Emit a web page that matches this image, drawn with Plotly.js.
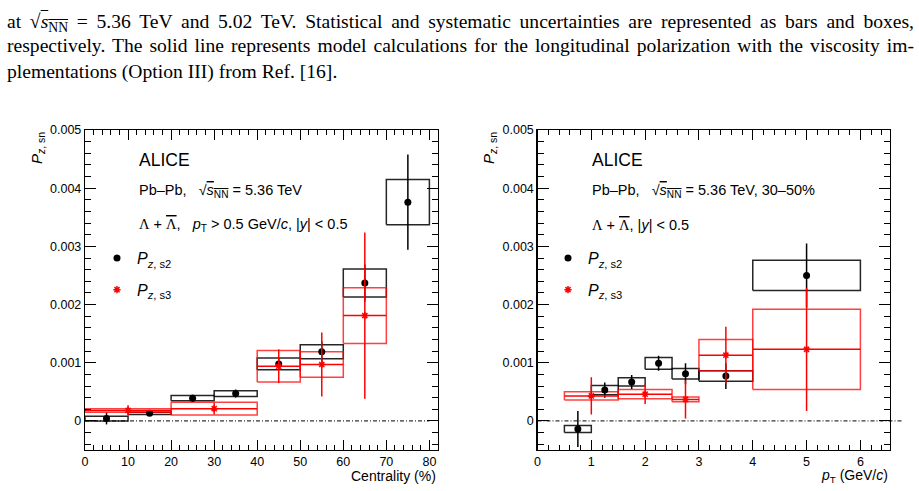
<!DOCTYPE html>
<html>
<head>
<meta charset="utf-8">
<script src="https://cdn.plot.ly/plotly-3.0.1.min.js"></script>
<style>
  html, body { margin: 0; padding: 0; background: #fff; }
  #wrap { position: relative; width: 919px; height: 491px; overflow: hidden; }
  #chart { position: absolute; left: 0; top: 0; width: 919px; height: 491px; }
  .cap { position: absolute; left: 7px; width: 907px; height: 26px; line-height: 26px; overflow: hidden;
    font-family: "Liberation Serif", "Times New Roman", serif; font-size: 19.6px; color: #000; }
  .cap.just { text-align: justify; text-align-last: justify; }
  .cap .rad { line-height: 0; }
  .cap .nn { font-size: 70%; position: relative; top: 0.3em; }
  .cap .ov { text-decoration: overline; }
</style>
</head>
<body>
<div id="wrap">
  <div id="chart"></div>
  <div class="cap just" style="top:9px">at <span class="rad">√</span><span class="ov"><i>s</i><span class="nn">NN</span></span> = 5.36 TeV and 5.02 TeV. Statistical and systematic uncertainties are represented as bars and boxes,</div>
  <div class="cap just" style="top:33px">respectively. The solid line represents model calculations for the longitudinal polarization with the viscosity im-</div>
  <div class="cap" style="top:59px">plementations (Option III) from Ref. [16].</div>
</div>
<script>
// ---- Centrality dependence (left panel) ----
const centS2          = [5, 15, 25, 35, 45, 55, 65, 75];
const centS2HalfWidth = [5, 5, 5, 5, 5, 5, 5, 5];
const pzS2Cent        = [0.00004, 0.00013, 0.00039, 0.00047, 0.00098, 0.00119, 0.00237, 0.00376];
const pzS2CentStat    = [0.00010, 0.00004, 0.00006, 0.00007, 0.00010, 0.00018, 0.00032, 0.00082];
const pzS2CentSyst    = [0.00004, 0.00002, 0.000045, 0.00005, 0.00010, 0.00012, 0.00024, 0.00039];

const centS3          = [10, 30, 45, 55, 65];
const centS3HalfWidth = [10, 10, 5, 5, 5];
const pzS3Cent        = [0.00018, 0.00021, 0.00094, 0.00097, 0.00181];
const pzS3CentStat    = [0.00009, 0.00010, 0.00029, 0.00055, 0.00143];
const pzS3CentSyst    = [0.00003, 0.00011, 0.00027, 0.00022, 0.00048];

// ---- pT dependence, 30-50% (right panel) ----
const ptS2            = [0.75, 1.25, 1.75, 2.25, 2.75, 3.5, 5];
const ptS2HalfWidth   = [0.25, 0.25, 0.25, 0.25, 0.25, 0.5, 1];
const pzS2Pt          = [-0.00014, 0.00053, 0.00067, 0.00099, 0.00081, 0.00077, 0.00250];
const pzS2PtStat      = [0.00031, 0.00013, 0.00012, 0.00013, 0.00018, 0.00022, 0.00055];
const pzS2PtSyst      = [0.00006, 0.00008, 0.00007, 0.00010, 0.00009, 0.00009, 0.00026];

const ptS3            = [1.0, 2.0, 2.75, 3.5, 5];
const ptS3HalfWidth   = [0.5, 0.5, 0.25, 0.5, 1];
const pzS3Pt          = [0.00043, 0.00046, 0.00037, 0.00113, 0.00123];
const pzS3PtStat      = [0.00032, 0.00017, 0.00033, 0.00049, 0.00106];
const pzS3PtSyst      = [0.00007, 0.00008, 0.00004, 0.00027, 0.00069];

// zero reference lines (x extent)
const zeroLineCent = [0, 80];
const zeroLinePt   = [0, 6.8];

// axis ticks
const yTickVals  = [0, 0.001, 0.002, 0.003, 0.004, 0.005];
const yTickText  = ['0', '0.001', '0.002', '0.003', '0.004', '0.005'];

const W = 919, H = 491;
const SANS = 'Liberation Sans, Arial, sans-serif';
const BLACK = '#000000';
const RED = '#ff0000';
const RED_BOX = 'rgba(255,0,0,0.75)';
const BLACK_BOX = 'rgba(0,0,0,0.85)';

// layout geometry in pixels
const xDomL = [85 / W, 438 / W];
const xDomR = [537.5 / W, 890 / W];
const yDom  = [(H - 450) / H, (H - 130) / H];
const xRangeL = [0, 82];
const xRangeR = [0, 6.55];
const yRange  = [-0.0005, 0.005];

// rectangle outlines for systematic uncertainties
function boxes(x, hw, v, s, color, xa, ya) {
  const xs = [], ys = [];
  for (let i = 0; i < x.length; i++) {
    const x0 = x[i] - hw[i], x1 = x[i] + hw[i];
    const y0 = v[i] - s[i], y1 = v[i] + s[i];
    xs.push(x0, x1, x1, x0, x0, null);
    ys.push(y0, y0, y1, y1, y0, null);
  }
  return { x: xs, y: ys, xaxis: xa, yaxis: ya, type: 'scatter', mode: 'lines',
    line: { color: color, width: 1.5 }, showlegend: false, hoverinfo: 'skip' };
}

function blackPoints(x, v, stat, xa, ya, name, legend, group) {
  return { x: x, y: v, xaxis: xa, yaxis: ya, type: 'scatter', mode: 'markers', name: name,
    legend: legend, legendgroup: group,
    marker: { symbol: 'circle', size: 7, color: BLACK },
    error_y: { type: 'data', array: stat, symmetric: true, width: 0, thickness: 1.5, color: BLACK } };
}

function redPoints(x, hw, v, stat, xa, ya, name, legend, group) {
  return { x: x, y: v, xaxis: xa, yaxis: ya, type: 'scatter', mode: 'markers', name: name,
    legend: legend, legendgroup: group,
    marker: { symbol: 'asterisk-open', size: 6, color: RED, line: { color: RED, width: 1.5 } },
    error_y: { type: 'data', array: stat, symmetric: true, width: 0, thickness: 1.5, color: RED },
    error_x: { type: 'data', array: hw, symmetric: true, width: 0, thickness: 1.5, color: RED } };
}

const nameS2 = '<i>P</i><sub><i>z</i>, s2</sub>';
const nameS3 = '<i>P</i><sub><i>z</i>, s3</sub>';

const data = [
  boxes(centS2, centS2HalfWidth, pzS2Cent, pzS2CentSyst, BLACK_BOX, 'x', 'y'),
  boxes(centS3, centS3HalfWidth, pzS3Cent, pzS3CentSyst, RED_BOX, 'x', 'y'),
  blackPoints(centS2, pzS2Cent, pzS2CentStat, 'x', 'y', nameS2, 'legend', 'a'),
  redPoints(centS3, centS3HalfWidth, pzS3Cent, pzS3CentStat, 'x', 'y', nameS3, 'legend', 'b'),
  boxes(ptS2, ptS2HalfWidth, pzS2Pt, pzS2PtSyst, BLACK_BOX, 'x2', 'y2'),
  boxes(ptS3, ptS3HalfWidth, pzS3Pt, pzS3PtSyst, RED_BOX, 'x2', 'y2'),
  blackPoints(ptS2, pzS2Pt, pzS2PtStat, 'x2', 'y2', nameS2, 'legend2', 'c'),
  redPoints(ptS3, ptS3HalfWidth, pzS3Pt, pzS3PtStat, 'x2', 'y2', nameS3, 'legend2', 'd')
];

const tickFont = { family: SANS, size: 12.5, color: BLACK };

function xAxis(dom, range, dtick, minorDtick) {
  return { domain: dom, range: range, dtick: dtick, tick0: 0,
    showline: true, linecolor: BLACK, linewidth: 1.2, mirror: 'allticks',
    ticks: 'inside', ticklen: 10, tickwidth: 1, tickcolor: BLACK,
    minor: { ticks: 'inside', ticklen: 5, dtick: minorDtick, tick0: 0, tickcolor: BLACK, tickwidth: 1, showgrid: false },
    showgrid: false, zeroline: false, tickfont: tickFont, fixedrange: true };
}
function yAxis(anchor) {
  return { domain: yDom, range: yRange, anchor: anchor, tickvals: yTickVals, ticktext: yTickText,
    showline: true, linecolor: BLACK, linewidth: 1.2, mirror: 'allticks',
    ticks: 'inside', ticklen: 11, tickwidth: 1, tickcolor: BLACK,
    minor: { ticks: 'inside', ticklen: 6, dtick: 0.0002, tick0: 0, tickcolor: BLACK, tickwidth: 1, showgrid: false },
    showgrid: false, zeroline: false, tickfont: tickFont, fixedrange: true };
}

const px = v => v / W;          // horizontal pixel -> paper
const py = v => (H - v) / H;    // vertical pixel -> paper
// data value on the pT axis -> paper coordinate (lets the zero line run past the frame)
const ptToPaper = v => xDomR[0] + (v - xRangeR[0]) / (xRangeR[1] - xRangeR[0]) * (xDomR[1] - xDomR[0]);

function text(x, y, t, size, opts) {
  return Object.assign({ xref: 'paper', yref: 'paper', x: x, y: y, text: t, showarrow: false,
    xanchor: 'left', yanchor: 'middle', font: { family: SANS, size: size, color: BLACK } }, opts || {});
}

const sqrtS = '√<span style="text-decoration:overline"><i>s</i><sub>NN</sub></span>';
const lambda = '<span style="font-family:Liberation Serif">Λ</span> + <span style="font-family:Liberation Serif;text-decoration:overline">Λ</span>';

const annotations = [
  // left panel
  text(px(137), py(160), 'ALICE', 17.5),
  text(px(137), py(191), 'Pb–Pb,   ' + sqrtS + ' = 5.36 TeV', 14.5),
  text(px(137), py(225), lambda + ',   <i>p</i><sub>T</sub> &gt; 0.5 GeV/<i>c</i>, |<i>y</i>| &lt; 0.5', 14.5),
  text(px(37), py(130), '<i>P</i><sub><i>z</i>, sn</sub>', 15, { textangle: -90, xanchor: 'center', yanchor: 'top' }),
  text(px(438), py(476), 'Centrality (%)', 14, { xanchor: 'right' }),
  // right panel
  text(px(590), py(160), 'ALICE', 17.5),
  text(px(590), py(191), 'Pb–Pb,   ' + sqrtS + ' = 5.36 TeV, 30–50%', 14.5),
  text(px(590), py(225), lambda + ', |<i>y</i>| &lt; 0.5', 14.5),
  text(px(489), py(130), '<i>P</i><sub><i>z</i>, sn</sub>', 15, { textangle: -90, xanchor: 'center', yanchor: 'top' }),
  text(px(890), py(476), '<i>p</i><sub>T</sub> (GeV/<i>c</i>)', 14, { xanchor: 'right' })
];

const zeroDash = '4px,2px,1px,2px';
const shapes = [
  { type: 'line', xref: 'x', yref: 'y', x0: zeroLineCent[0], x1: zeroLineCent[1], y0: 0, y1: 0,
    line: { color: BLACK, width: 1, dash: zeroDash } },
  { type: 'line', xref: 'paper', yref: 'y2', x0: ptToPaper(zeroLinePt[0]), x1: ptToPaper(zeroLinePt[1]), y0: 0, y1: 0,
    line: { color: BLACK, width: 1, dash: zeroDash } }
];

const legendBase = { bgcolor: 'rgba(0,0,0,0)', borderwidth: 0, font: { family: SANS, size: 16, color: BLACK },
  traceorder: 'grouped', tracegroupgap: 8, itemwidth: 30, xanchor: 'left', yanchor: 'top' };

const layout = {
  width: W, height: H,
  margin: { l: 0, r: 0, t: 0, b: 0 },
  paper_bgcolor: '#fff', plot_bgcolor: '#fff',
  showlegend: true,
  xaxis: Object.assign(xAxis(xDomL, xRangeL, 10, 2), { anchor: 'y' }),
  yaxis: yAxis('x'),
  xaxis2: Object.assign(xAxis(xDomR, xRangeR, 1, 0.2), { anchor: 'y2' }),
  yaxis2: yAxis('x2'),
  legend: Object.assign({}, legendBase, { x: px(97), y: py(241) }),
  legend2: Object.assign({}, legendBase, { x: px(548), y: py(241) }),
  annotations: annotations,
  shapes: shapes
};

Plotly.newPlot('chart', data, layout, { displayModeBar: false, staticPlot: true });
</script>
</body>
</html>
